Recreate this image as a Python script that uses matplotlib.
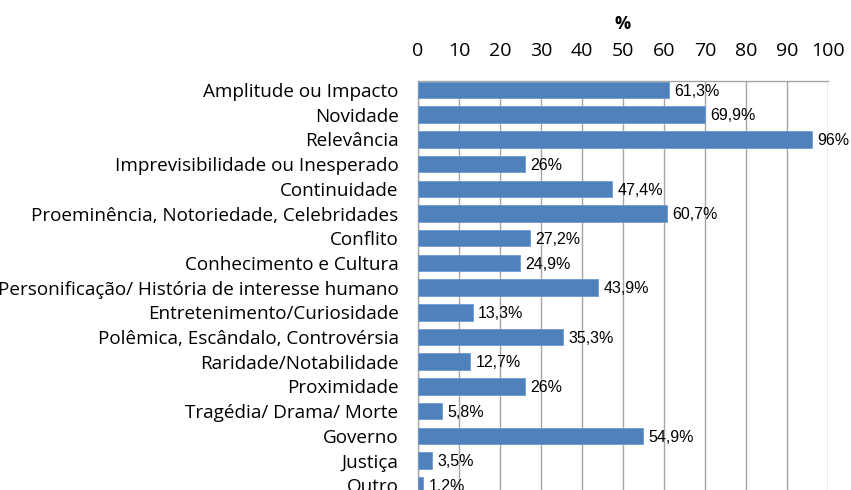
import matplotlib
matplotlib.use("Agg")
import matplotlib.pyplot as plt

categories = [
    "Amplitude ou Impacto",
    "Novidade",
    "Relevância",
    "Imprevisibilidade ou Inesperado",
    "Continuidade",
    "Proeminência, Notoriedade, Celebridades",
    "Conflito",
    "Conhecimento e Cultura",
    "Personificação/ História de interesse humano",
    "Entretenimento/Curiosidade",
    "Polêmica, Escândalo, Controvérsia",
    "Raridade/Notabilidade",
    "Proximidade",
    "Tragédia/ Drama/ Morte",
    "Governo",
    "Justiça",
    "Outro",
]
values = [61.3, 69.9, 96, 26, 47.4, 60.7, 27.2, 24.9, 43.9, 13.3, 35.3, 12.7, 26, 5.8, 54.9, 3.5, 1.2]
xticks = [0, 10, 20, 30, 40, 50, 60, 70, 80, 90, 100]

fig = plt.figure(figsize=(8.51, 4.90), dpi=100)
ax = fig.add_axes([0.4912, -0.0155, 0.4818, 0.851])

ypos = list(range(len(categories)))
ax.barh(ypos, values, height=0.67, color="#4F81BD", edgecolor="#6F9BD0", linewidth=0.6, zorder=3)

for y, v in zip(ypos, values):
    lbl = f"{v:g}".replace(".", ",") + "%"
    ax.text(v + 1.3, y + 0.05, lbl, va="center", ha="left", fontsize=11.5,
            family="Liberation Sans", color="black", zorder=4)

ax.set_ylim(16.5, -0.38)
ax.set_xlim(0, 100)
ax.set_yticks(ypos)
ax.set_yticklabels(categories, fontsize=13.6, family="Open Sans")
ax.set_xticks(xticks)
ax.set_xticklabels([str(t) for t in xticks], fontsize=14, family="Open Sans")
ax.xaxis.tick_top()
ax.xaxis.set_label_position("top")
ax.tick_params(axis="x", length=0, pad=15)
ax.tick_params(axis="y", length=0, pad=14)
ax.set_xlabel("%", fontsize=13, fontweight="bold", family="Open Sans", labelpad=9)

ax.grid(axis="x", color="#A6A6A6", linewidth=1, zorder=0)
ax.set_axisbelow(True)
for s in ["bottom", "right"]:
    ax.spines[s].set_visible(False)
for s in ["top", "left"]:
    ax.spines[s].set_color("#A6A6A6")
    ax.spines[s].set_linewidth(1)

fig.savefig("out.png", dpi=100)
